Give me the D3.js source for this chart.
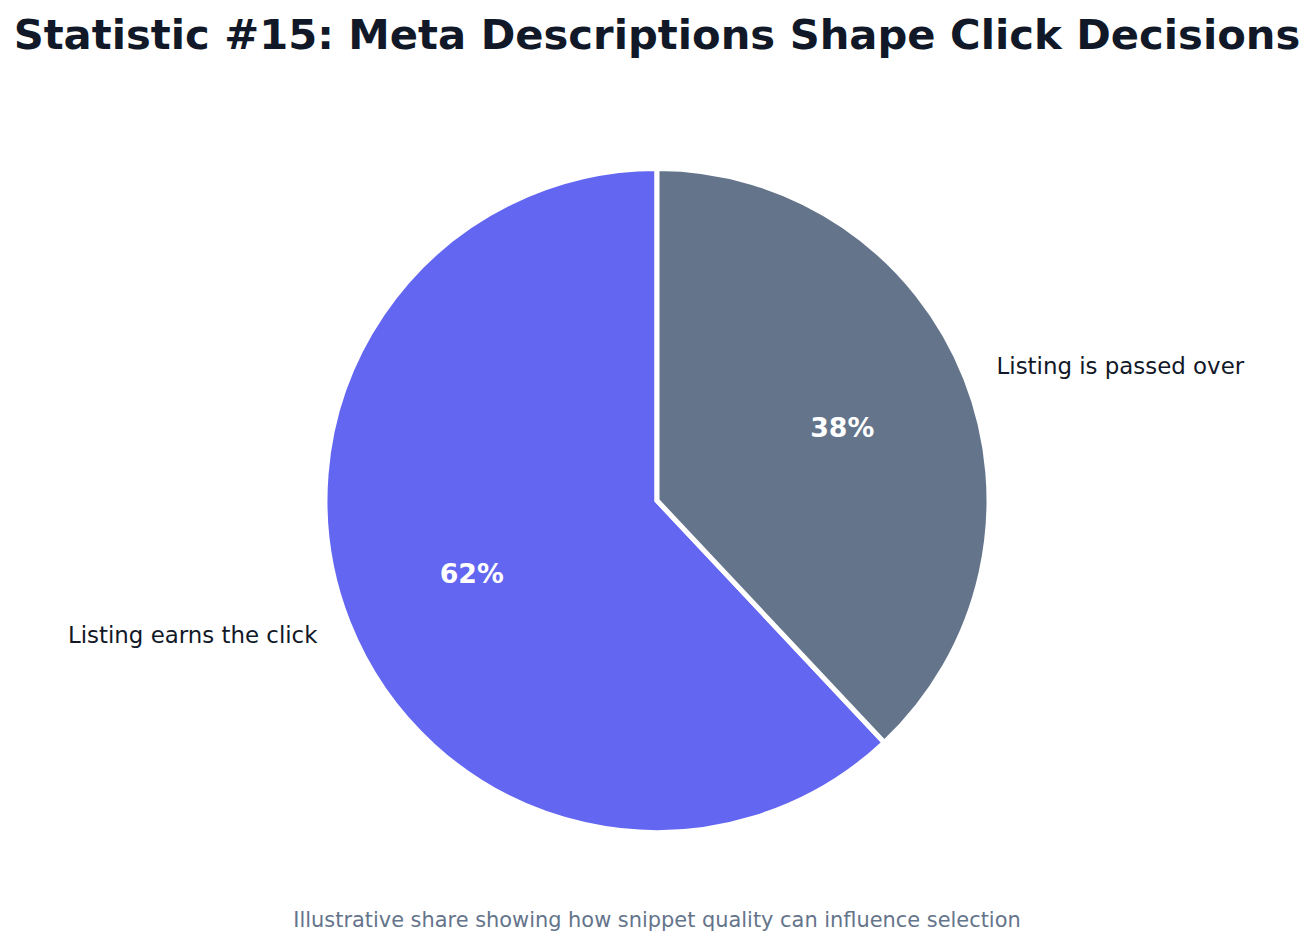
<!DOCTYPE html>
<html>
<head>
<meta charset="utf-8">
<script src="https://cdn.jsdelivr.net/npm/d3@7"></script>
<style>
  html, body { margin: 0; padding: 0; background: #ffffff; }
  svg { display: block; font-family: "DejaVu Sans", sans-serif; }
</style>
</head>
<body>
<svg id="chart" width="1314" height="946"></svg>
<script>
const categories = ["Listing earns the click", "Listing is passed over"];
const values = [62, 38];
const pctLabels = ["62%", "38%"];
const colors = ["#6366f1", "#64748b"];
const titleText = "Statistic #15: Meta Descriptions Shape Click Decisions";
const footerText = "Illustrative share showing how snippet quality can influence selection";

const svg = d3.select("#chart");
const W = 1314, H = 946;
const cx = 657, cy = 500.5, R = 332;

svg.append("text")
  .attr("x", W / 2).attr("y", 49)
  .attr("text-anchor", "middle")
  .attr("font-size", "41.7px").attr("font-weight", "bold")
  .attr("fill", "#111827")
  .text(titleText);

const data = categories.map((c, i) => ({ cat: c, value: values[i], pct: pctLabels[i], color: colors[i] }));

// matplotlib: startangle 90, counterclockwise -> first slice on the left
const pie = d3.pie().sort(null).value(d => d.value)
  .startAngle(2 * Math.PI).endAngle(0);
const arcs = pie(data);

const g = svg.append("g").attr("transform", `translate(${cx},${cy})`);
const arc = d3.arc().innerRadius(0).outerRadius(R);

g.selectAll("path.slice").data(arcs).enter().append("path")
  .attr("class", "slice")
  .attr("d", arc)
  .attr("fill", d => d.data.color)
  .attr("stroke", "#ffffff").attr("stroke-width", 5)
  .attr("stroke-linejoin", "miter");

function mid(d) { return (d.startAngle + d.endAngle) / 2; }

g.selectAll("text.pct").data(arcs).enter().append("text")
  .attr("class", "pct")
  .attr("x", d => Math.sin(mid(d)) * R * 0.6)
  .attr("y", d => -Math.cos(mid(d)) * R * 0.6)
  .attr("text-anchor", "middle").attr("dominant-baseline", "central")
  .attr("font-size", "26.8px").attr("font-weight", "bold").attr("fill", "#ffffff")
  .text(d => d.data.pct);

g.selectAll("text.lbl").data(arcs).enter().append("text")
  .attr("class", "lbl")
  .attr("x", d => Math.sin(mid(d)) * R * 1.1)
  .attr("y", d => -Math.cos(mid(d)) * R * 1.1)
  .attr("text-anchor", d => Math.sin(mid(d)) >= 0 ? "start" : "end")
  .attr("dominant-baseline", "central")
  .attr("font-size", "22.9px").attr("fill", "#111827")
  .text(d => d.data.cat);

svg.append("text")
  .attr("x", W / 2).attr("y", 927)
  .attr("text-anchor", "middle")
  .attr("font-size", "20.9px").attr("fill", "#64748b")
  .text(footerText);
</script>
</body>
</html>
